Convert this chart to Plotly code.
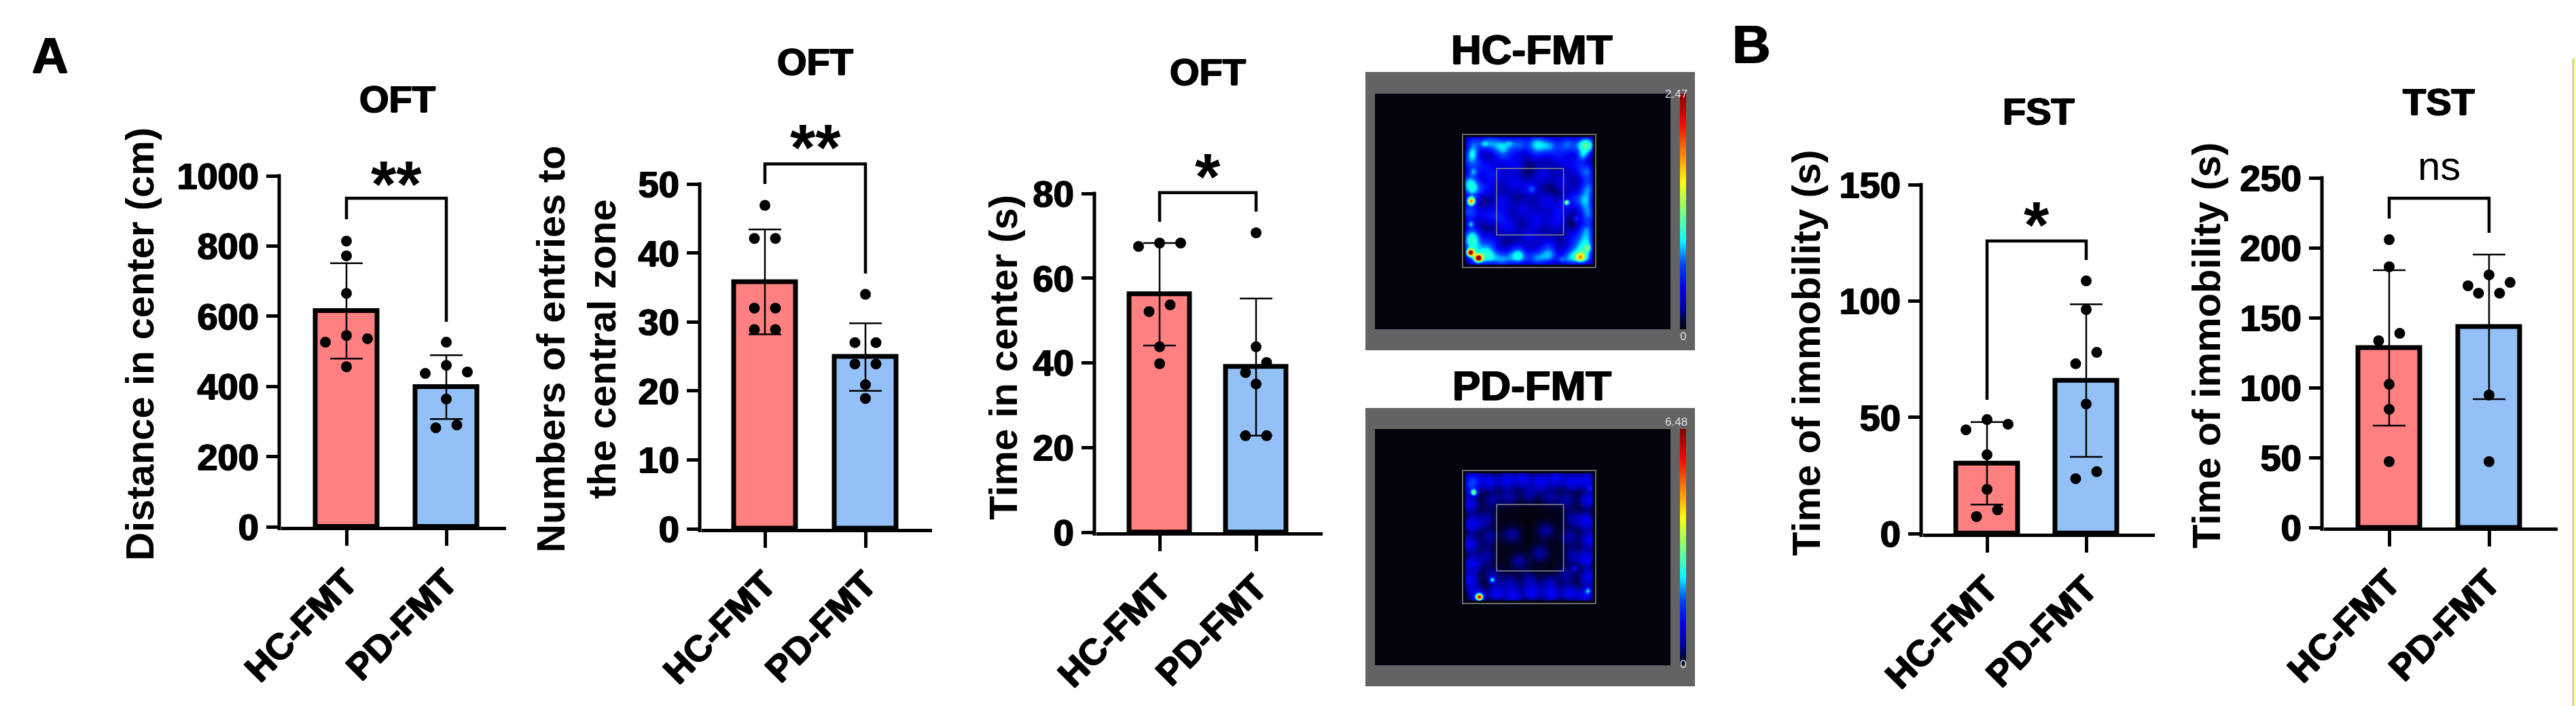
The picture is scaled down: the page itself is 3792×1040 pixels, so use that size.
import numpy as np
import plotly.graph_objects as go

W, H = 3792, 1040

# ---------------- data ----------------
groups = ["HC-FMT", "PD-FMT"]

dist_hc = [814, 772, 665, 545, 536, 526, 456]
dist_pd = [526, 460, 441, 437, 364, 290, 282]
dist_mean = [615, 398]
dist_sd = [136, 91]
dist_sig = [936, 876, 584]          # bracket top, left leg end, right leg end
dist_label = ["**", 1019]

entries_hc = [46.9, 42.1, 42.1, 32.0, 32.0, 28.9, 28.9]
entries_pd = [34.0, 27.0, 27.0, 23.9, 23.9, 20.9, 18.9]
entries_mean = [35.8, 24.9]
entries_sd = [7.6, 4.9]
entries_sig = [52.9, 50.0, 37.0]
entries_label = ["**", 57.4]

time_hc = [68.3, 68.3, 67.5, 53.7, 52.1, 43.8, 39.8]
time_pd = [70.7, 43.8, 40.1, 37.7, 35.0, 22.8, 22.8]
time_mean = [56.2, 39.0]
time_sd = [12.1, 16.2]
time_sig = [80.2, 73.3, 75.7]
time_label = ["*", 87.4]

fst_hc = [49.0, 47.0, 44.6, 33.9, 19.0, 10.2, 7.3]
fst_pd = [108.6, 96.3, 77.9, 73.0, 55.7, 26.6, 23.6]
fst_mean = [30.2, 65.8]
fst_sd = [17.7, 32.8]
fst_sig = [125.8, 57.5, 117.6]
fst_label = ["*", 139]

tst_hc = [205.8, 186.4, 138.8, 133.5, 102.4, 84.5, 47.1]
tst_pd = [180.6, 175.2, 172.8, 167.5, 167.5, 94.7, 47.1]
tst_mean = [128.4, 143.4]
tst_sd = [55.6, 51.7]
tst_sig = [235.4, 220.9, 210.7]
tst_label = ["ns", 256]

y_tops = [1000, 50, 80, 150, 250]
y_dticks = [200, 10, 20, 50, 50]
panel_titles = ["OFT", "OFT", "OFT", "FST", "TST"]
y_titles = ["Distance in center (cm)", "Numbers of entries to<br>the central zone",
            "Time in center (s)", "Time of immobility (s)", "Time of immobility (s)"]

# heat-map hot spots (u, v in arena units, relative intensity, spread)
hc_spots = [
    (0.063, 0.50, 0.62, 0.020), (0.057, 0.885, 0.80, 0.018), (0.116, 0.926, 0.80, 0.018),
    (0.88, 0.92, 0.36, 0.022), (0.78, 0.51, 0.40, 0.012), (0.07, 0.14, 0.16, 0.030),
    (0.08, 0.28, 0.14, 0.022), (0.06, 0.67, 0.22, 0.020), (0.90, 0.16, 0.16, 0.030),
    (0.85, 0.63, 0.16, 0.016), (0.52, 0.41, 0.14, 0.020), (0.94, 0.85, 0.16, 0.016),
    (0.74, 0.94, 0.12, 0.020), (0.16, 0.07, 0.10, 0.02), (0.35, 0.06, 0.08, 0.02),
]
hc_band = [
    (0.08, 0.07), (0.20, 0.06), (0.30, 0.08), (0.42, 0.07), (0.55, 0.06), (0.65, 0.08),
    (0.78, 0.07), (0.90, 0.08), (0.10, 0.93), (0.20, 0.92), (0.30, 0.94), (0.42, 0.92),
    (0.55, 0.93), (0.65, 0.91), (0.80, 0.93), (0.92, 0.92), (0.06, 0.20), (0.05, 0.35),
    (0.07, 0.42), (0.05, 0.58), (0.07, 0.75), (0.06, 0.82), (0.93, 0.28), (0.94, 0.40),
    (0.92, 0.50), (0.94, 0.60), (0.93, 0.72), (0.95, 0.08), (0.93, 0.82),
]
hc_inner = [
    (0.25, 0.30), (0.40, 0.22), (0.60, 0.30), (0.75, 0.35), (0.30, 0.50), (0.45, 0.56),
    (0.62, 0.50), (0.70, 0.66), (0.35, 0.70), (0.50, 0.76), (0.22, 0.80), (0.64, 0.82),
    (0.18, 0.60), (0.82, 0.48), (0.18, 0.40), (0.82, 0.78), (0.40, 0.88), (0.55, 0.14),
    (0.30, 0.16), (0.72, 0.18), (0.16, 0.24), (0.84, 0.22), (0.50, 0.40), (0.38, 0.36),
    (0.56, 0.64), (0.28, 0.62), (0.74, 0.56), (0.16, 0.86), (0.86, 0.88),
]
pd_spots = [
    (0.123, 0.949, 0.85, 0.018), (0.082, 0.162, 0.40, 0.016), (0.222, 0.82, 0.32, 0.015),
    (0.94, 0.90, 0.25, 0.018), (0.957, 0.133, 0.16, 0.016), (0.838, 0.735, 0.14, 0.014),
]
pd_band = [
    (0.08, 0.06), (0.20, 0.08), (0.33, 0.07), (0.45, 0.06), (0.58, 0.08), (0.70, 0.06),
    (0.82, 0.08), (0.93, 0.07), (0.10, 0.93), (0.25, 0.92), (0.38, 0.94), (0.52, 0.92),
    (0.66, 0.93), (0.80, 0.92), (0.92, 0.94), (0.05, 0.25), (0.07, 0.40), (0.05, 0.55),
    (0.07, 0.70), (0.05, 0.82), (0.94, 0.22), (0.93, 0.38), (0.95, 0.52), (0.93, 0.66),
    (0.94, 0.80), (0.06, 0.12),
]
pd_inner = [
    (0.22, 0.22), (0.50, 0.18), (0.78, 0.22), (0.20, 0.50), (0.80, 0.50), (0.22, 0.78),
    (0.50, 0.82), (0.78, 0.78), (0.37, 0.48), (0.62, 0.45), (0.42, 0.68), (0.58, 0.62),
    (0.35, 0.20), (0.65, 0.20), (0.18, 0.36), (0.82, 0.36), (0.18, 0.64), (0.82, 0.64),
    (0.35, 0.84), (0.65, 0.84),
]

# ---------------- layout geometry (pixels) ----------------
# y-axis x, x-axis end, centre of group 0, centre of group 1, y of 0, y of top tick
geom = [
    (411, 745, 510, 657, 776, 259),
    (1030, 1372, 1126, 1274, 779, 271),
    (1611, 1947, 1707, 1849, 784, 285),
    (2828, 3172, 2925, 3071, 786, 272),
    (3418, 3765, 3517, 3664, 777, 262),
]
title_pos = [(585, 146), (1200, 90), (1778, 106), (3001, 163), (3590, 150)]
ytitle_pos = [(205, 507), (848, 515), (1476, 527), (2658, 520), (3247, 509)]

PINK = "#FF8080"
BLUE = "#93C1F7"
FONT = "Liberation Sans, Arial, sans-serif"
HEAVY = "1px 0px 0px #000, -1px 0px 0px #000, 0px 1px 0px #000"


def PX(p):
    return p / W


def PY(p):
    return 1 - p / H


def swarm(vals, center, px_per_unit, unit_per_px, r=17, step=31):
    order = sorted(range(len(vals)), key=lambda i: -vals[i])
    rows = []
    for i in order:
        if rows and (vals[rows[-1][0]] - vals[i]) * px_per_unit < r:
            rows[-1].append(i)
        else:
            rows.append([i])
    xs = [center] * len(vals)
    for row in rows:
        n = len(row)
        if n == 1:
            slots = [0]
        elif n == 2:
            slots = [0.5, -0.5]
        elif n == 3:
            slots = [0, 1, -1]
        else:
            slots = [k - (n - 1) / 2 for k in range(n)]
        for i, s in zip(row, slots):
            xs[i] = center + s * step * unit_per_px
    return xs


panels = [
    (dist_hc, dist_pd, dist_mean, dist_sd, dist_sig, dist_label),
    (entries_hc, entries_pd, entries_mean, entries_sd, entries_sig, entries_label),
    (time_hc, time_pd, time_mean, time_sd, time_sig, time_label),
    (fst_hc, fst_pd, fst_mean, fst_sd, fst_sig, fst_label),
    (tst_hc, tst_pd, tst_mean, tst_sd, tst_sig, tst_label),
]

fig = go.Figure()
shapes = []
annotations = []
layout_axes = {}
EXT = 1.3

for k, (hc, pdv, mean, sd, sig, lab) in enumerate(panels):
    n = k + 1
    xa = "x" if n == 1 else f"x{n}"
    ya = "y" if n == 1 else f"y{n}"
    yax, xend, c0, c1, y0, yt = geom[k]
    top = y_tops[k]
    dom_x0 = yax + 2.5
    sp = c1 - c0
    lo = -(c0 - dom_x0) / sp
    hi = 1 + (xend - c1) / sp
    span_px = (y0 - yt) * EXT
    px_per_unit = (y0 - yt) / top

    fig.add_trace(go.Bar(
        x=[0, 1], y=mean, width=0.62, xaxis=xa, yaxis=ya, showlegend=False,
        marker=dict(color=[PINK, BLUE], line=dict(color="black", width=7)),
        error_y=dict(type="data", array=sd, color="black", thickness=2.5, width=24),
    ))
    for gi, vals in enumerate([hc, pdv]):
        xs = swarm(vals, gi, px_per_unit, 1 / sp)
        fig.add_trace(go.Scatter(
            x=xs, y=vals, mode="markers", xaxis=xa, yaxis=ya, showlegend=False,
            cliponaxis=False, marker=dict(color="black", size=16, line=dict(width=0)),
        ))

    layout_axes["xaxis" if n == 1 else f"xaxis{n}"] = dict(
        domain=[PX(dom_x0), PX(xend)], range=[lo, hi], anchor=ya, automargin=False,
        tickvals=[0, 1], ticktext=groups, tickangle=-45,
        tickfont=dict(family=FONT, size=54, color="black", weight="bold", shadow=HEAVY),
        ticks="outside", ticklen=23, tickwidth=5, tickcolor="black",
        showline=True, linewidth=5, linecolor="black",
        showgrid=False, zeroline=False, fixedrange=True,
    )
    layout_axes["yaxis" if n == 1 else f"yaxis{n}"] = dict(
        domain=[PY(y0), PY(y0 - span_px)], range=[0, top * EXT], anchor=xa, automargin=False,
        tickvals=list(range(0, top + 1, y_dticks[k])),
        tickfont=dict(family=FONT, size=54, color="black", weight="bold", shadow=HEAVY),
        ticks="outside", ticklen=21, tickwidth=5, tickcolor="black",
        showline=False, showgrid=False, zeroline=False, fixedrange=True,
    )
    # y axis line (ends at the top tick)
    shapes.append(dict(type="line", xref="paper", yref="paper",
                       x0=PX(yax), x1=PX(yax), y0=PY(y0 + 5), y1=PY(yt - 2.5),
                       line=dict(color="black", width=5)))
    # significance bracket
    shapes.append(dict(type="path", xref=xa, yref=ya,
                       path=f"M 0,{sig[1]} L 0,{sig[0]} L 1,{sig[0]} L 1,{sig[2]}",
                       line=dict(color="black", width=4.5)))
    if lab[0] == "ns":
        annotations.append(dict(x=0.5, y=lab[1], xref=xa, yref=ya, text="ns", showarrow=False,
                                yanchor="middle", yshift=5,
                                font=dict(family=FONT, size=60, color="black")))
    else:
        annotations.append(dict(x=0.5, y=lab[1], xref=xa, yref=ya, text=lab[0], showarrow=False,
                                yanchor="middle", yshift=-21,
                                font=dict(family=FONT, size=96, color="black", weight="bold")))
    # panel title
    tx, ty = title_pos[k]
    annotations.append(dict(x=PX(tx), y=PY(ty), xref="paper", yref="paper", text=panel_titles[k],
                            showarrow=False, xanchor="center", yanchor="middle",
                            font=dict(family=FONT, size=56, color="black", weight="bold", shadow=HEAVY)))
    # y title
    lx, ly = ytitle_pos[k]
    annotations.append(dict(x=PX(lx), y=PY(ly), xref="paper", yref="paper", text=y_titles[k],
                            showarrow=False, xanchor="center", yanchor="middle", textangle=-90,
                            font=dict(family=FONT, size=58, color="black", weight="bold")))

# ---------------- heat maps ----------------
CSCALE = [[0, "#03030d"], [0.04, "#020240"], [0.1, "#0000b0"], [0.18, "#0000f5"],
          [0.28, "#0048ff"], [0.375, "#00ffff"], [0.5, "#80ff80"], [0.625, "#ffff00"],
          [0.75, "#ff8000"], [0.875, "#ff0000"], [1, "#800000"]]

gx = np.linspace(-0.05, 1.05, 221)
gy = np.linspace(-0.05, 1.05, 221)
GX, GY = np.meshgrid(gx, gy)


def density(spots, band, inner, band_amp, band_s, inner_amp, inner_s):
    z = np.zeros_like(GX)
    for (u, v, a, s) in spots:
        z += a * np.exp(-((GX - u) ** 2 + (GY - v) ** 2) / (2 * s * s))
    for (u, v) in band:
        z += band_amp * np.exp(-((GX - u) ** 2 + (GY - v) ** 2) / (2 * band_s ** 2))
    for (u, v) in inner:
        z += inner_amp * np.exp(-((GX - u) ** 2 + (GY - v) ** 2) / (2 * inner_s ** 2))
    inside = (GX > 0.02) & (GX < 0.98) & (GY > 0.02) & (GY < 0.98)
    return np.clip(z * inside, 0, 1)


maps = [
    (density(hc_spots, hc_band, hc_inner, 0.26, 0.05, 0.15, 0.055), 106, 138, 485, "HC-FMT", "2.47"),
    (density(pd_spots, pd_band, pd_inner, 0.17, 0.045, 0.09, 0.05), 601, 632, 980, "PD-FMT", "6.48"),
]
ARENA_X0, ARENA_PX = 2153, 196
IN_X0, IN_X1 = 2024, 2459
for m, (z, ftop, itop, ibot, name, vmax) in enumerate(maps):
    n = 6 + m
    arena_top = itop + 60 if m == 0 else itop + 61
    xr = [(IN_X0 - ARENA_X0) / ARENA_PX, (IN_X1 - ARENA_X0) / ARENA_PX]
    yr = [(ibot - arena_top) / ARENA_PX, (itop - arena_top) / ARENA_PX]
    fig.add_trace(go.Heatmap(
        x=gx, y=gy, z=z, xaxis=f"x{n}", yaxis=f"y{n}", zmin=0, zmax=1, zsmooth="best",
        colorscale=CSCALE, showscale=True, hoverinfo="skip",
        colorbar=dict(x=PX(2473), xanchor="left", y=PY((itop + ibot) / 2), yanchor="middle",
                      thickness=9, thicknessmode="pixels", len=(ibot - itop) / H, lenmode="fraction",
                      xpad=0, ypad=0, outlinewidth=0, showticklabels=False, ticks=""),
    ))
    layout_axes[f"xaxis{n}"] = dict(domain=[PX(IN_X0), PX(IN_X1)], range=xr, anchor=f"y{n}",
                                    visible=False, fixedrange=True, automargin=False)
    layout_axes[f"yaxis{n}"] = dict(domain=[PY(ibot), PY(itop)], range=yr, anchor=f"x{n}",
                                    visible=False, fixedrange=True, automargin=False)
    # grey frame and dark field
    shapes.append(dict(type="rect", xref="paper", yref="paper", layer="below",
                       x0=PX(2010), x1=PX(2495), y0=PY(ftop + 410), y1=PY(ftop),
                       fillcolor="#636363", line=dict(width=0)))
    shapes.append(dict(type="rect", xref="paper", yref="paper", layer="below",
                       x0=PX(IN_X0), x1=PX(IN_X1), y0=PY(ibot), y1=PY(itop),
                       fillcolor="#03030d", line=dict(width=0)))
    # arena and centre zone outlines
    shapes.append(dict(type="rect", xref=f"x{n}", yref=f"y{n}", x0=0, x1=1, y0=0, y1=1,
                       line=dict(color="#6a6a6a", width=2)))
    shapes.append(dict(type="rect", xref=f"x{n}", yref=f"y{n}", x0=0.256, x1=0.758, y0=0.256, y1=0.755,
                       line=dict(color="#8a8a8a", width=1.5)))
    annotations.append(dict(x=PX(2467), y=PY(itop - 11), xref="paper", yref="paper", text=vmax,
                            showarrow=False, font=dict(family=FONT, size=17, color="#dedede")))
    annotations.append(dict(x=PX(2477), y=PY(ibot + 10), xref="paper", yref="paper", text="0",
                            showarrow=False, font=dict(family=FONT, size=17, color="#dedede")))
    annotations.append(dict(x=PX(2255), y=PY(73 if m == 0 else 567), xref="paper", yref="paper",
                            text=name, showarrow=False, yanchor="middle",
                            font=dict(family=FONT, size=62, color="black", weight="bold", shadow=HEAVY)))

# panel letters
annotations.append(dict(x=PX(45), y=PY(82), xref="paper", yref="paper", text="A", showarrow=False,
                        xanchor="left", yanchor="middle",
                        font=dict(family=FONT, size=74, color="black", weight="bold", shadow=HEAVY)))
annotations.append(dict(x=PX(2548), y=PY(65), xref="paper", yref="paper", text="B", showarrow=False,
                        xanchor="left", yanchor="middle",
                        font=dict(family=FONT, size=78, color="black", weight="bold", shadow=HEAVY)))

# thin border line at the right edge
shapes.append(dict(type="line", xref="paper", yref="paper", x0=PX(3787.5), x1=PX(3787.5),
                   y0=PY(1040), y1=PY(86), line=dict(color="#a0a0a0", width=1)))
shapes.append(dict(type="line", xref="paper", yref="paper", x0=PX(3789), x1=PX(3789),
                   y0=PY(1040), y1=PY(86), line=dict(color="#f0f000", width=1.5)))

fig.update_layout(
    template="none",
    width=W, height=H, margin=dict(l=0, r=0, t=0, b=0, pad=0, autoexpand=False),
    paper_bgcolor="white", plot_bgcolor="rgba(0,0,0,0)",
    shapes=shapes, annotations=annotations, showlegend=False, bargap=0,
    font=dict(family=FONT, color="black"),
    **layout_axes,
)
fig.write_html("out.html", config={"displayModeBar": False},
               post_script="document.body.style.margin='0px';")
